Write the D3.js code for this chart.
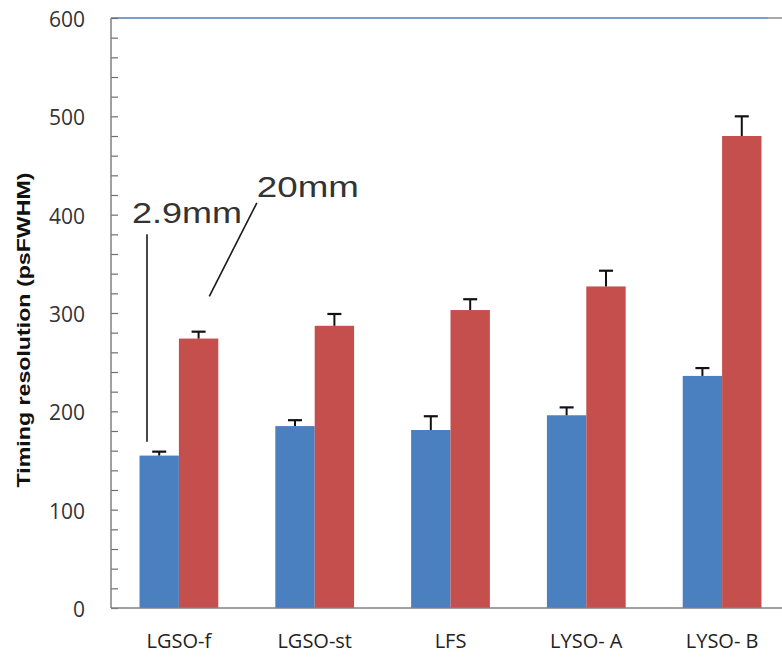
<!DOCTYPE html>
<html>
<head>
<meta charset="utf-8">
<script src="https://cdn.jsdelivr.net/npm/d3@7"></script>
<style>
  html, body { margin: 0; padding: 0; background: #fff; }
  svg { display: block; }
</style>
</head>
<body>
<svg id="chart" width="782" height="657"></svg>
<script>
// Crystal types on the x axis
const categories = ["LGSO-f", "LGSO-st", "LFS", "LYSO- A", "LYSO- B"];
// Crystal lengths (one bar per length in each group)
const series = ["2.9mm", "20mm"];
// Timing resolution (ps FWHM) and upper error for each crystal
const short29 = [155, 185, 181, 196, 236];
const short29Err = [4, 6, 14, 8, 8];
const long20 = [274, 287, 303, 327, 480];
const long20Err = [7, 12, 11, 16, 20];
// Y axis tick labels
const yTicks = [0, 100, 200, 300, 400, 500, 600];

const seriesValues = [short29, long20];
const seriesErrors = [short29Err, long20Err];
const seriesColors = ["#4a7fc0", "#c44f4c"];

const rows = categories.map((c, i) => ({
  category: c,
  bars: series.map((s, k) => ({
    series: s, value: seriesValues[k][i], err: seriesErrors[k][i], color: seriesColors[k]
  }))
}));

const svg = d3.select("#chart");
const plot = { left: 111, right: 790, top: 18, bottom: 608 };

const x0 = d3.scaleBand()
  .domain(categories)
  .range([plot.left, plot.right])
  .paddingInner(0.42)
  .paddingOuter(0.21);
const x1 = d3.scaleBand()
  .domain(series)
  .range([0, x0.bandwidth()]);
const y = d3.scaleLinear().domain([0, 600]).range([plot.bottom, plot.top]);

// Bars
const groups = svg.append("g").selectAll("g")
  .data(rows).join("g")
  .attr("transform", d => `translate(${x0(d.category)},0)`);

groups.selectAll("rect")
  .data(d => d.bars).join("rect")
  .attr("x", d => x1(d.series))
  .attr("y", d => y(d.value))
  .attr("width", x1.bandwidth())
  .attr("height", d => y(0) - y(d.value))
  .attr("fill", d => d.color);

// Upper error bars
const eb = groups.selectAll("g.err")
  .data(d => d.bars).join("g").attr("class", "err")
  .attr("transform", d => `translate(${x1(d.series) + x1.bandwidth() / 2},0)`);
eb.append("line")
  .attr("x1", 0).attr("x2", 0)
  .attr("y1", d => y(d.value)).attr("y2", d => y(d.value + d.err))
  .attr("stroke", "#111").attr("stroke-width", 2);
eb.append("line")
  .attr("x1", -7).attr("x2", 7)
  .attr("y1", d => y(d.value + d.err)).attr("y2", d => y(d.value + d.err))
  .attr("stroke", "#111").attr("stroke-width", 2.2);

// Plot frame: blue top edge, grey axes
svg.append("line")
  .attr("x1", plot.left).attr("x2", 768)
  .attr("y1", plot.top).attr("y2", plot.top)
  .attr("stroke", "#4a7ebb").attr("stroke-width", 1.5);
svg.append("line")
  .attr("x1", 768).attr("x2", 782)
  .attr("y1", plot.top).attr("y2", plot.top)
  .attr("stroke", "#8a8a8a").attr("stroke-width", 1.5);

// Minor/major ticks pointing inward
const tickAxis = d3.axisLeft(y).tickValues(d3.range(0, 601, 20)).tickSize(-7).tickFormat("");
const gTicks = svg.append("g").attr("transform", `translate(${plot.left},0)`).call(tickAxis);
gTicks.select(".domain").remove();
gTicks.selectAll(".tick line").attr("stroke", "#6e6e6e").attr("stroke-width", 1.2);

// Value labels
const labelAxis = d3.axisLeft(y).tickValues(yTicks).tickSize(0).tickPadding(26);
const gLabels = svg.append("g").attr("transform", `translate(${plot.left},0)`).call(labelAxis);
gLabels.select(".domain").remove();
gLabels.selectAll("text")
  .attr("font-family", "'Open Sans', sans-serif")
  .attr("font-size", 21)
  .attr("fill", "#333")
  .attr("dy", "0.4em");

svg.append("line")
  .attr("x1", plot.left).attr("x2", plot.left)
  .attr("y1", plot.top).attr("y2", plot.bottom)
  .attr("stroke", "#808080").attr("stroke-width", 1.5);

// Category axis
const xAxis = d3.axisBottom(x0).tickSize(0).tickPadding(26);
const gx = svg.append("g").attr("transform", `translate(0,${plot.bottom})`).call(xAxis);
gx.select(".domain").remove();
gx.selectAll("text")
  .attr("font-family", "'Open Sans', sans-serif")
  .attr("font-size", 20)
  .attr("fill", "#222");
svg.append("line")
  .attr("x1", plot.left).attr("x2", 782)
  .attr("y1", plot.bottom).attr("y2", plot.bottom)
  .attr("stroke", "#808080").attr("stroke-width", 1.5);

// Y axis title
svg.append("text")
  .attr("transform", `translate(30,${(plot.top + plot.bottom) / 2 + 17}) rotate(-90)`)
  .attr("text-anchor", "middle")
  .attr("font-family", "'Liberation Sans', Arial, sans-serif")
  .attr("font-weight", "bold")
  .attr("font-size", 19)
  .attr("textLength", 315)
  .attr("lengthAdjust", "spacingAndGlyphs")
  .attr("fill", "#111")
  .text("Timing resolution (psFWHM)");

// Series call-outs on the first group
const ax = (cat, frac) => x0(cat) + frac * x0.bandwidth();
const calloutLines = [
  { x1: ax(categories[0], 0.095), y1: 380, x2: ax(categories[0], 0.095), y2: 169 },
  { x1: ax(categories[0], 1.49), y1: 412, x2: ax(categories[0], 0.886), y2: 317 }
];
const calloutTexts = [
  { text: series[0], x: ax(categories[0], -0.095), v: 391.5, len: 110 },
  { text: series[1], x: ax(categories[0], 1.49), v: 418.3, len: 102 }
];
svg.append("g").selectAll("line")
  .data(calloutLines).join("line")
  .attr("x1", d => d.x1).attr("y1", d => y(d.y1))
  .attr("x2", d => d.x2).attr("y2", d => y(d.y2))
  .attr("stroke", "#1a1a1a").attr("stroke-width", 1.6);
svg.append("g").selectAll("text")
  .data(calloutTexts).join("text")
  .attr("x", d => d.x).attr("y", d => y(d.v))
  .attr("font-family", "'Liberation Sans', Arial, sans-serif")
  .attr("font-size", 30)
  .attr("textLength", d => d.len)
  .attr("lengthAdjust", "spacingAndGlyphs")
  .attr("fill", "#333")
  .text(d => d.text);
</script>
</body>
</html>
